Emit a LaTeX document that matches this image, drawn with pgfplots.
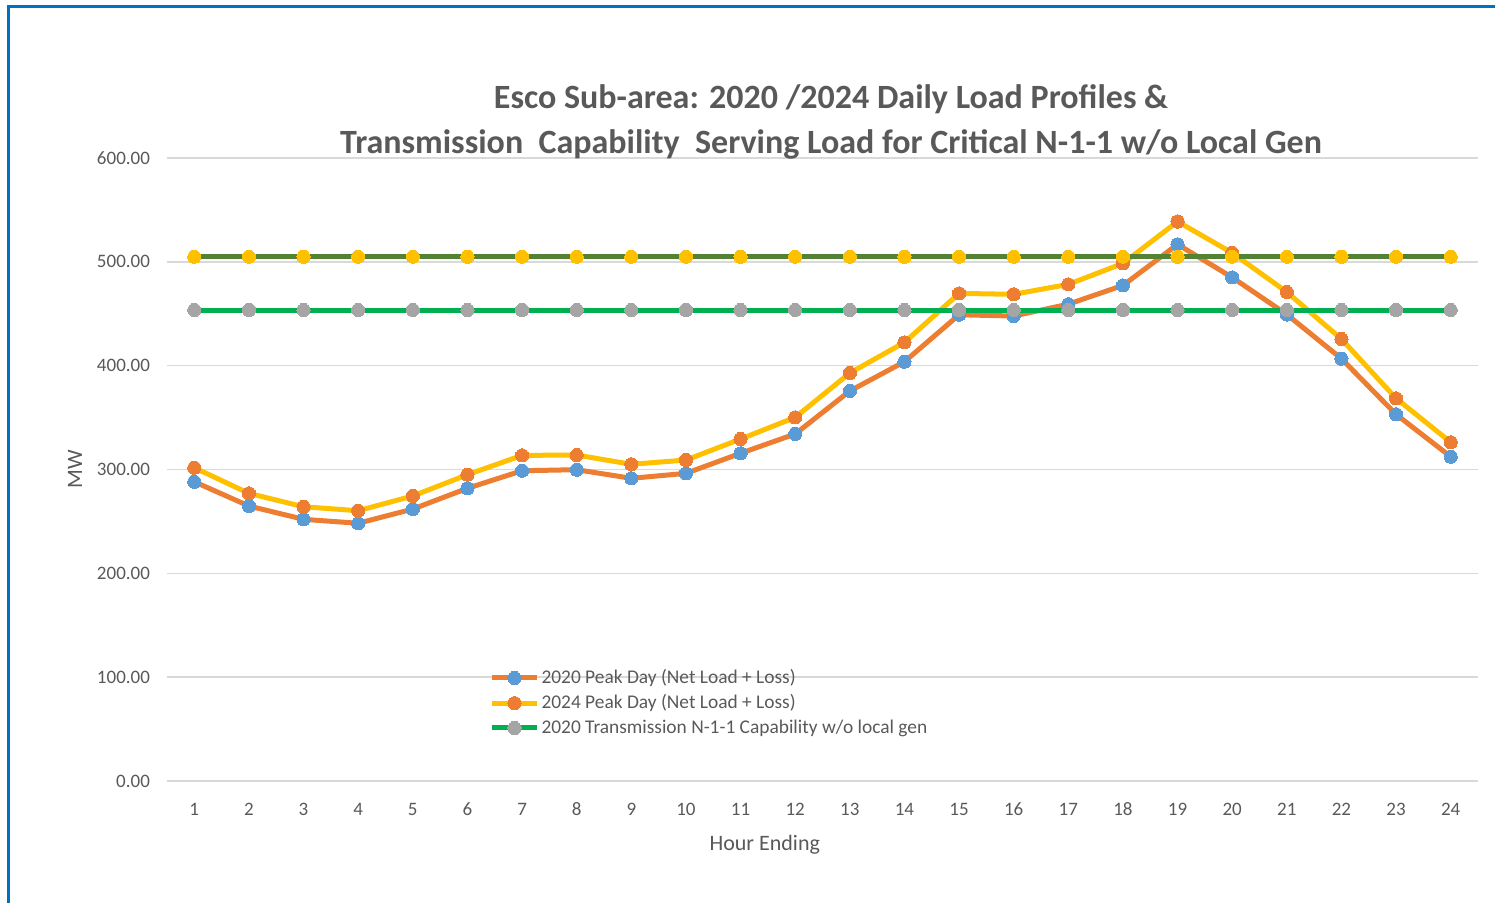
\documentclass[border=0pt]{standalone}
\usepackage{fontspec}
\setmainfont{Carlito}
\usepackage{pgfplots}
\pgfplotsset{compat=1.18}

\definecolor{txt}{HTML}{595959}
\definecolor{gridc}{HTML}{D9D9D9}
\definecolor{xlorange}{HTML}{ED7D31}
\definecolor{xlblue}{HTML}{5B9BD5}
\definecolor{xlgold}{HTML}{FFC000}
\definecolor{xlgreen}{HTML}{00B050}
\definecolor{xlgray}{HTML}{A5A5A5}
\definecolor{xlolive}{HTML}{548235}
\definecolor{frameblue}{HTML}{0070C0}

\begin{document}
\begin{tikzpicture}
\useasboundingbox (0,0) rectangle (747.5pt,451.5pt);
\draw[frameblue, line width=1.5pt] (4.2pt,0) -- (4.2pt,448.2pt) -- (747.5pt,448.2pt);
\begin{axis}[
    at={(83.5pt,61pt)}, anchor=south west,
    scale only axis,
    width=655.5pt, height=311.5pt,
    xmin=0.5, xmax=24.5,
    ymin=0, ymax=600,
    xtick={1,...,24},
    ytick={0,100,...,600},
    ymajorgrids,
    grid style={gridc, line width=0.8pt},
    axis lines*=left,
    x axis line style={gridc, line width=0.8pt, -},
    y axis line style={draw=none},
    major tick length=0pt,
    ticklabel style={font=\fontsize{9.5}{12}\selectfont, text=txt},
    yticklabel style={xshift=-5pt},
    xticklabel style={yshift=-7pt, text height=6.5pt, text depth=0pt},
    yticklabel={\pgfmathprintnumber[fixed, fixed zerofill, precision=2]{\tick}},
    /pgf/number format/assume math mode=true,
    xlabel={Hour Ending},
    ylabel={MW},
    xlabel style={at={(axis description cs:0.456,-0.1027)}, anchor=center, font=\fontsize{11}{13}\selectfont, text=txt},
    ylabel style={at={(axis description cs:-0.0702,0.5)}, anchor=center, font=\fontsize{11}{13}\selectfont, text=txt},
    title={Esco Sub-area: 2020 /2024 Daily Load Profiles \&\\Transmission\ \ Capability\ \ Serving Load for Critical N-1-1 w/o Local Gen},
    title style={at={(axis description cs:0.5065,1.0393)}, anchor=center, align=center,
      font=\fontsize{17}{22.5}\selectfont\bfseries, text=txt},
    legend style={at={(axis description cs:0.2457,0.183)}, anchor=north west,
      draw=none, fill=none, inner sep=0pt, row sep=2pt,
      font=\fontsize{9.7}{11.5}\selectfont, text=txt,
      nodes={inner sep=1pt}},
    legend cell align=left,
    legend image code/.code={\draw[mark repeat=2,mark phase=2] plot coordinates {(0pt,0pt) (11.25pt,0pt) (22.5pt,0pt)};},
    every axis plot/.append style={line width=2.5pt},
    mark options={solid},
  ]
% 2020 peak day
\addplot[xlorange, mark=*, mark size=3.3pt, mark options={fill=xlblue, draw=xlblue, line width=0pt}] coordinates {
(1,288.2) (2,264.8) (3,252.0) (4,248.2) (5,261.9) (6,281.9) (7,298.8) (8,299.8)
(9,291.5) (10,296.3) (11,315.6) (12,334.2) (13,375.6) (14,403.8) (15,449.0) (16,447.8)
(17,459.2) (18,477.3) (19,516.8) (20,485.0) (21,449.3) (22,406.7) (23,353.1) (24,312.3)};
% 2024 peak day
\addplot[xlgold, mark=*, mark size=3.3pt, mark options={fill=xlorange, draw=xlorange, line width=0pt}] coordinates {
(1,301.7) (2,277.0) (3,264.1) (4,260.3) (5,274.5) (6,295.0) (7,313.6) (8,313.9)
(9,305.0) (10,309.1) (11,329.3) (12,350.2) (13,392.9) (14,422.4) (15,469.6) (16,468.7)
(17,478.3) (18,498.5) (19,538.8) (20,508.6) (21,470.9) (22,425.6) (23,368.5) (24,326.2)};
% 2020 transmission capability
\addplot[xlgreen, mark=*, mark size=3.3pt, mark options={fill=xlgray, draw=xlgray, line width=0pt}] coordinates {
(1,453.6) (2,453.6) (3,453.6) (4,453.6) (5,453.6) (6,453.6) (7,453.6) (8,453.6)
(9,453.6) (10,453.6) (11,453.6) (12,453.6) (13,453.6) (14,453.6) (15,453.6) (16,453.6)
(17,453.6) (18,453.6) (19,453.6) (20,453.6) (21,453.6) (22,453.6) (23,453.6) (24,453.6)};
% 2024 transmission capability (not in legend)
\addplot[xlolive, mark=*, mark size=3.3pt, mark options={fill=xlgold, draw=xlgold, line width=0pt}, forget plot] coordinates {
(1,504.9) (2,504.9) (3,504.9) (4,504.9) (5,504.9) (6,504.9) (7,504.9) (8,504.9)
(9,504.9) (10,504.9) (11,504.9) (12,504.9) (13,504.9) (14,504.9) (15,504.9) (16,504.9)
(17,504.9) (18,504.9) (19,504.9) (20,504.9) (21,504.9) (22,504.9) (23,504.9) (24,504.9)};
\legend{2020 Peak Day (Net Load + Loss), 2024 Peak Day (Net Load + Loss), 2020 Transmission N-1-1 Capability w/o local gen}
\end{axis}
\end{tikzpicture}
\end{document}
